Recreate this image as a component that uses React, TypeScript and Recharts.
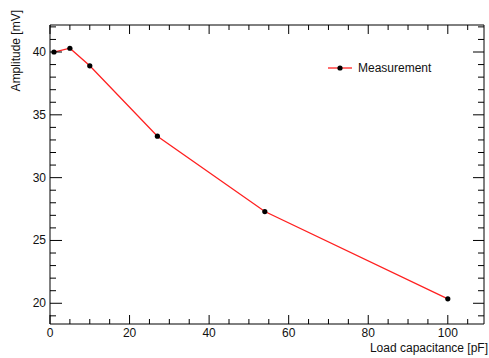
import { LineChart, Line, XAxis, YAxis, Legend, Label } from "recharts";

const capacitance = [1, 5, 10, 27, 54, 100];
const amplitude = [40.0, 40.3, 38.9, 33.3, 27.3, 20.35];

const xTicks = [0, 5, 10, 15, 20, 25, 30, 35, 40, 45, 50, 55, 60, 65, 70, 75, 80, 85, 90, 95, 100, 105];
const yTicks = [19, 20, 21, 22, 23, 24, 25, 26, 27, 28, 29, 30, 31, 32, 33, 34, 35, 36, 37, 38, 39, 40, 41, 42];

const data = capacitance.map((c, i) => ({ c, amp: amplitude[i] }));

const FONT = "'Liberation Sans', Arial, sans-serif";

function BottomTick(props: any) {
  const { x, y, payload } = props;
  const v = payload.value;
  const major = v % 20 === 0;
  return (
    <g>
      <line x1={x} x2={x} y1={y} y2={y - (major ? 9 : 5)} stroke="#000" />
      {major && (
        <text x={x} y={y + 12.5} textAnchor="middle" fontSize={12} fontFamily={FONT} fill="#111">
          {v}
        </text>
      )}
    </g>
  );
}

function TopTick(props: any) {
  const { x, y, payload } = props;
  const major = payload.value % 20 === 0;
  return <line x1={x} x2={x} y1={y} y2={y + (major ? 9 : 5)} stroke="#000" />;
}

function LeftTick(props: any) {
  const { x, y, payload } = props;
  const v = payload.value;
  const major = v % 5 === 0;
  return (
    <g>
      <line x1={x} x2={x + (major ? 12 : 6)} y1={y} y2={y} stroke="#000" />
      {major && (
        <text x={x - 4} y={y + 4} textAnchor="end" fontSize={12} fontFamily={FONT} fill="#111">
          {v}
        </text>
      )}
    </g>
  );
}

function RightTick(props: any) {
  const { x, y, payload } = props;
  const major = payload.value % 5 === 0;
  return <line x1={x} x2={x - (major ? 11 : 6)} y1={y} y2={y} stroke="#000" />;
}

function LegendBox() {
  return (
    <div style={{ display: "flex", alignItems: "center", fontFamily: FONT, fontSize: 12, color: "#111" }}>
      <svg width={28} height={10}>
        <line x1={2} x2={26} y1={5} y2={5} stroke="#ff2020" strokeWidth={1.3} />
        <circle cx={14} cy={5} r={2.6} fill="#000" />
      </svg>
      <span style={{ marginLeft: 4 }}>Measurement</span>
    </div>
  );
}

export default function App() {
  return (
    <div style={{ position: "absolute", left: 0, top: 0, background: "#fff" }}>
      <LineChart width={489} height={358} data={data} margin={{ top: 10, right: 4, bottom: 0, left: 0 }}>
        <XAxis
          xAxisId="b"
          dataKey="c"
          type="number"
          domain={[0, 109.1]}
          ticks={xTicks}
          interval={0}
          tick={<BottomTick />}
          tickLine={false}
          tickSize={0}
          tickMargin={0}
          height={34}
          axisLine={{ stroke: "#000" }}
        >
          <Label
            content={(p: any) => (
              <text
                x={488}
                y={p.viewBox.y + 28}
                textAnchor="end"
                fontSize={12}
                fontFamily={FONT}
                fill="#111"
              >
                Load capacitance [pF]
              </text>
            )}
          />
        </XAxis>
        <XAxis
          xAxisId="t"
          orientation="top"
          dataKey="c"
          type="number"
          domain={[0, 109.1]}
          ticks={xTicks}
          interval={0}
          tick={<TopTick />}
          tickLine={false}
          tickSize={0}
          tickMargin={0}
          height={1}
          axisLine={{ stroke: "#000" }}
        />
        <YAxis
          yAxisId="l"
          type="number"
          domain={[18.35, 42.15]}
          ticks={yTicks}
          interval={0}
          tick={<LeftTick />}
          tickLine={false}
          tickSize={0}
          tickMargin={0}
          width={50}
          axisLine={{ stroke: "#000" }}
          allowDataOverflow
        >
          <Label
            content={() => (
              <text
                x={20}
                y={10}
                transform="rotate(-90 20 10)"
                textAnchor="end"
                fontSize={12}
                fontFamily={FONT}
                fill="#111"
              >
                Amplitude [mV]
              </text>
            )}
          />
        </YAxis>
        <YAxis
          yAxisId="r"
          orientation="right"
          type="number"
          domain={[18.35, 42.15]}
          ticks={yTicks}
          interval={0}
          tick={<RightTick />}
          tickLine={false}
          tickSize={0}
          tickMargin={0}
          width={1}
          axisLine={{ stroke: "#000" }}
          allowDataOverflow
        />
        <Legend
          verticalAlign="top"
          content={<LegendBox />}
          wrapperStyle={{ position: "absolute", left: 326, top: 61, width: "auto" }}
        />
        <Line
          xAxisId="b"
          yAxisId="l"
          dataKey="amp"
          type="linear"
          stroke="#ff2020"
          strokeWidth={1.3}
          dot={{ r: 2.6, fill: "#000", stroke: "none" }}
          activeDot={false}
          isAnimationActive={false}
        />
      </LineChart>
    </div>
  );
}
